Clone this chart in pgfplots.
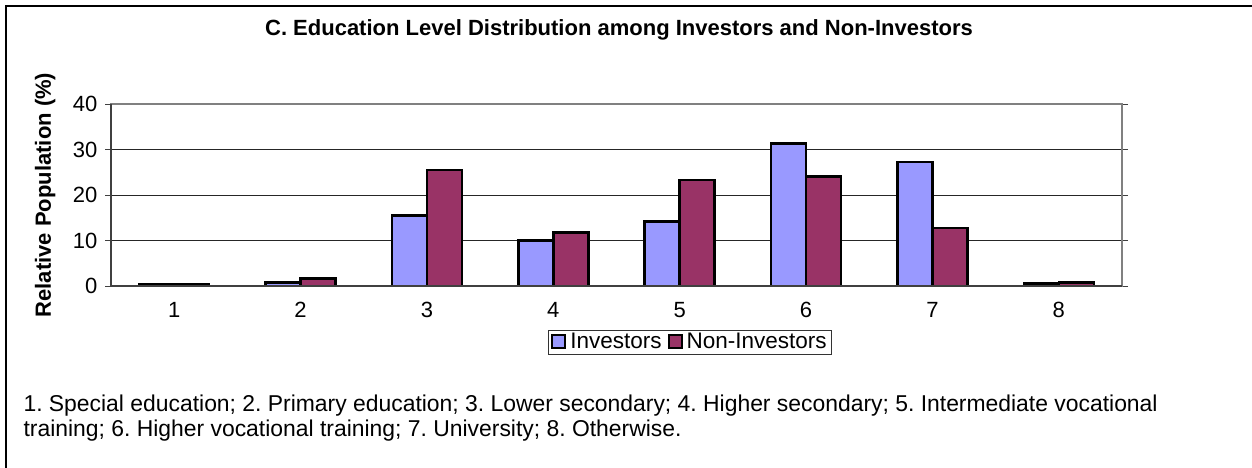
\documentclass[border=0pt]{standalone}
\usepackage{fontspec}
\setmainfont{Liberation Sans}
\usepackage{pgfplots}
\pgfplotsset{compat=1.18}
\definecolor{inv}{HTML}{9999FF}
\definecolor{noninv}{HTML}{993366}
\definecolor{axgray}{HTML}{808080}
\frenchspacing
\begin{document}
\begin{tikzpicture}[x=1pt,y=1pt]
\path[use as bounding box, fill=white] (0,0) rectangle (1252,468);
\draw[black, line width=1.2pt] (6,-5) -- (6,462) -- (1260,462);
\node[font=\fontsize{22}{26}\selectfont\bfseries] at (619,438) {C. Education Level Distribution among Investors and Non-Investors};
\begin{axis}[
  at={(111pt,182pt)}, anchor=south west,
  scale only axis, width=1011pt, height=182pt,
  xmin=0.5, xmax=8.5, ymin=0, ymax=40,
  ybar=0pt, bar width=35pt,
  xtick={1,...,8},
  x tick style={draw=none},
  extra x ticks={0.5,1.5,...,8.5},
  extra x tick labels={},
  extra x tick style={tick style={draw=black!75, line width=0.8pt}, major tick length=6pt, tick align=outside, grid=none},
  ytick={0,10,...,40},
  y tick style={draw=black!75, line width=0.8pt},
  major tick length=6pt, tick align=outside,
  ymajorgrids, major grid style={black!85, line width=0.9pt},
  axis line style={axgray, line width=1.2pt},
  tick label style={font=\fontsize{22}{26}\selectfont},
  /pgf/number format/assume math mode=true,
  xticklabel style={yshift=-7pt},
  yticklabel style={xshift=-4pt},
  ylabel={Relative Population (\%)},
  ylabel style={font=\fontsize{22}{26}\selectfont\bfseries, at={(axis description cs:-0.065,0.5)}, anchor=center},
  legend columns=2,
  legend style={at={(axis description cs:0.5727,-0.3077)}, anchor=center, draw=black!80, line width=0.8pt, font=\fontsize{22.5}{27}\selectfont, inner xsep=3pt, inner ysep=1.5pt,
    /tikz/every odd column/.append style={column sep=2pt},
    /tikz/every even column/.append style={column sep=4pt}},
  legend image code/.code={\draw[#1, line width=2pt] (0pt,-6.5pt) rectangle (13pt,6.5pt);},
  clip=false,
]
\addplot[fill=inv, draw=black, line width=2.5pt] coordinates {(1,0.4) (2,0.8) (3,15.5) (4,10.0) (5,14.2) (6,31.3) (7,27.2) (8,0.5)};
\addplot[fill=noninv, draw=black, line width=2.5pt] coordinates {(1,0.3) (2,1.7) (3,25.5) (4,11.8) (5,23.3) (6,24.1) (7,12.8) (8,0.8)};
\legend{Investors, Non-Investors}
\draw[black!75, line width=1.2pt] (axis cs:0.5,40) -- (axis cs:0.5,0) -- (axis cs:8.5,0);
\end{axis}
\node[anchor=base west, font=\fontsize{22.9}{27}\selectfont, align=left] at (20,56) {1. Special education; 2. Primary education; 3. Lower secondary; 4. Higher secondary; 5. Intermediate vocational};
\node[anchor=base west, font=\fontsize{22.9}{27}\selectfont, align=left] at (20,31) {training; 6. Higher vocational training; 7. University; 8. Otherwise.};
\end{tikzpicture}
\end{document}
